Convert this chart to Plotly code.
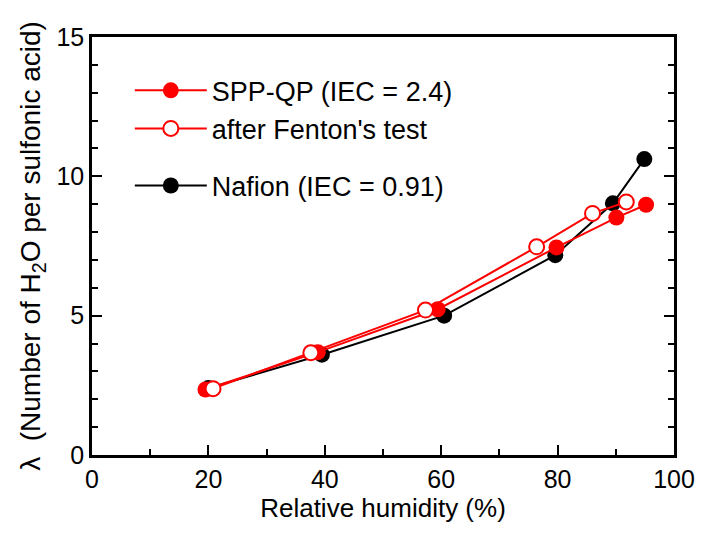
import plotly.graph_objects as go

# Nafion
naf_x = [20.0, 39.5, 60.5, 79.6, 89.5, 94.9]
naf_y = [2.40, 3.60, 5.00, 7.17, 9.03, 10.62]
# SPP-QP (IEC = 2.4)
spp_x = [19.5, 38.8, 59.4, 79.8, 90.1, 95.2]
spp_y = [2.35, 3.69, 5.23, 7.45, 8.52, 8.98]
# after Fenton's test
fen_x = [20.8, 37.6, 57.3, 76.4, 86.0, 91.8]
fen_y = [2.38, 3.67, 5.20, 7.47, 8.67, 9.08]

font = "Liberation Sans, Arial, sans-serif"
FS = 25
fig = go.Figure()
fig.add_trace(go.Scatter(x=naf_x, y=naf_y, mode="lines+markers", name="Nafion (IEC = 0.91)",
                         legendgroup="b", legendrank=3, line=dict(color="black", width=2),
                         marker=dict(symbol="circle", size=16, color="black")))
fig.add_trace(go.Scatter(x=spp_x, y=spp_y, mode="lines+markers", name="SPP-QP (IEC = 2.4)",
                         legendgroup="a", legendrank=1, line=dict(color="#ff0000", width=2),
                         marker=dict(symbol="circle", size=16, color="#ff0000")))
fig.add_trace(go.Scatter(x=fen_x, y=fen_y, mode="lines+markers", name="after Fenton's test",
                         legendgroup="a", legendrank=2, line=dict(color="#ff0000", width=2),
                         marker=dict(symbol="circle", size=15, color="white",
                                     line=dict(color="#ff0000", width=2))))

fig.update_layout(
    width=707, height=533,
    margin=dict(l=92, r=27, t=37, b=78),
    plot_bgcolor="white", paper_bgcolor="white",
    font=dict(family=font, size=FS, color="black"),
    legend=dict(x=0.065, y=0.93, xanchor="left", yanchor="top",
                traceorder="grouped", tracegroupgap=19,
                font=dict(family=font, size=27, color="black"),
                bgcolor="rgba(0,0,0,0)", itemwidth=72),
    showlegend=True,
)
fig.update_xaxes(range=[0, 100], tickvals=[0, 20, 40, 60, 80, 100],
                 ticks="inside", ticklen=10, tickwidth=2, tickcolor="black",
                 minor=dict(tickvals=[10, 30, 50, 70, 90], ticks="inside", ticklen=6,
                            tickwidth=2, tickcolor="black"),
                 showline=True, linewidth=2.5, linecolor="black", mirror=True,
                 showgrid=False, zeroline=False,
                 title=dict(text="Relative humidity (%)",
                            font=dict(family=font, size=26, color="black"), standoff=6),
                 tickfont=dict(family=font, size=FS, color="black"))
fig.update_yaxes(range=[0, 15], tickvals=[0, 5, 10, 15],
                 ticks="inside", ticklen=10, tickwidth=2, tickcolor="black",
                 minor=dict(tickvals=[1, 2, 3, 4, 6, 7, 8, 9, 11, 12, 13, 14], ticks="inside",
                            ticklen=6, tickwidth=2, tickcolor="black"),
                 showline=True, linewidth=2.5, linecolor="black", mirror="ticks",
                 showgrid=False, zeroline=False,
                 title=dict(text="λ  (Number of H<sub>2</sub>O per sulfonic acid)",
                            font=dict(family=font, size=28, color="black"), standoff=8),
                 tickfont=dict(family=font, size=FS, color="black"))
fig.write_html("out.html")
